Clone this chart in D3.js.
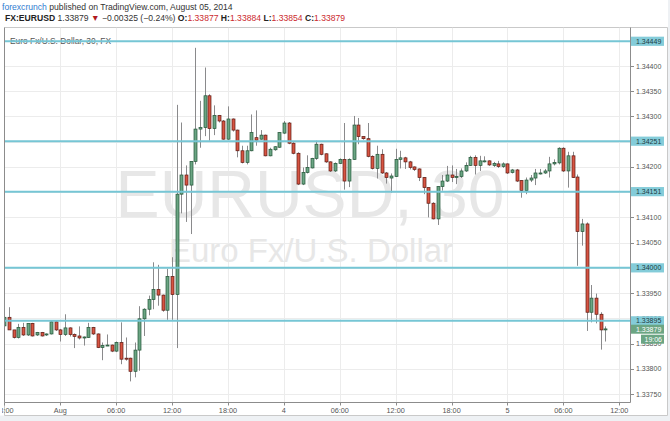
<!DOCTYPE html>
<html><head><meta charset="utf-8">
<script src="https://cdn.jsdelivr.net/npm/d3@7"></script>
<style>
html,body{margin:0;padding:0;background:#fff;}
svg{display:block;}
text{font-family:"Liberation Sans",Arial,sans-serif;}
</style></head><body>
<svg id="chart" width="670" height="421"></svg>
<script>
// ---- data: EURUSD 30-minute candles ----
const openP = [
1.33885,1.33902,1.33877,1.33862,1.33882,1.33867,1.33890,1.33867,1.33872,1.33867,
1.33869,1.33893,1.33877,1.33868,1.33881,1.33868,1.33865,1.33861,1.33862,1.33882,
1.33869,1.33842,1.33846,1.33847,1.33835,1.33852,1.33821,1.33821,1.33795,1.33837,
1.33899,1.33918,1.33937,1.33957,1.33946,1.33916,1.33983,1.33947,1.34146,1.34184,
1.34164,1.34211,1.34275,1.34278,1.34341,1.34276,1.34302,1.34291,1.34255,1.34295,
1.34273,1.34232,1.34209,1.34232,1.34258,1.34255,1.34263,1.34222,1.34234,1.34239,
1.34267,1.34287,1.34247,1.34227,1.34166,1.34189,1.34198,1.34217,1.34245,1.34226,
1.34210,1.34192,1.34207,1.34215,1.34172,1.34215,1.34283,1.34260,1.34256,1.34221,
1.34197,1.34225,1.34188,1.34178,1.34181,1.34215,1.34218,1.34210,1.34200,1.34196,
1.34179,1.34159,1.34128,1.34097,1.34161,1.34172,1.34184,1.34179,1.34181,1.34192,
1.34203,1.34219,1.34203,1.34211,1.34212,1.34203,1.34206,1.34201,1.34206,1.34189,
1.34194,1.34173,1.34153,1.34174,1.34178,1.34186,1.34188,1.34192,1.34206,1.34208,
1.34237,1.34192,1.34222,1.34180,1.34072,1.34087,1.33912,1.33940,1.33908,1.33877];
const highP = [
1.33902,1.33922,1.33877,1.33889,1.33891,1.33890,1.33891,1.33873,1.33873,1.33870,
1.33895,1.33895,1.33879,1.33908,1.33882,1.33870,1.33884,1.33864,1.33891,1.33883,
1.33870,1.33852,1.33868,1.33848,1.33854,1.33892,1.33862,1.33822,1.33852,1.33924,
1.33920,1.33945,1.34011,1.34006,1.33947,1.33998,1.34021,1.34323,1.34288,1.34203,
1.34211,1.34436,1.34331,1.34397,1.34344,1.34322,1.34303,1.34293,1.34320,1.34296,
1.34274,1.34242,1.34242,1.34304,1.34312,1.34273,1.34264,1.34238,1.34241,1.34269,
1.34291,1.34289,1.34249,1.34229,1.34199,1.34223,1.34218,1.34252,1.34246,1.34227,
1.34211,1.34209,1.34217,1.34287,1.34217,1.34301,1.34297,1.34261,1.34287,1.34223,
1.34242,1.34235,1.34190,1.34187,1.34236,1.34232,1.34220,1.34212,1.34201,1.34197,
1.34180,1.34160,1.34130,1.34162,1.34184,1.34202,1.34203,1.34196,1.34197,1.34209,
1.34222,1.34223,1.34222,1.34221,1.34213,1.34210,1.34212,1.34209,1.34207,1.34196,
1.34196,1.34174,1.34179,1.34184,1.34196,1.34196,1.34196,1.34220,1.34215,1.34239,
1.34239,1.34230,1.34230,1.34185,1.34097,1.34090,1.33966,1.33949,1.33912,1.33884];
const lowP = [
1.33885,1.33877,1.33860,1.33860,1.33865,1.33865,1.33864,1.33865,1.33864,1.33865,
1.33868,1.33875,1.33854,1.33865,1.33864,1.33841,1.33858,1.33846,1.33861,1.33867,
1.33841,1.33817,1.33845,1.33833,1.33833,1.33809,1.33816,1.33775,1.33783,1.33796,
1.33865,1.33906,1.33918,1.33925,1.33913,1.33897,1.33897,1.33841,1.34108,1.34091,
1.34067,1.34205,1.34238,1.34261,1.34252,1.34263,1.34288,1.34254,1.34254,1.34270,
1.34219,1.34207,1.34205,1.34231,1.34242,1.34254,1.34221,1.34221,1.34232,1.34238,
1.34265,1.34245,1.34225,1.34164,1.34164,1.34187,1.34197,1.34214,1.34223,1.34208,
1.34190,1.34190,1.34206,1.34155,1.34160,1.34214,1.34245,1.34254,1.34219,1.34195,
1.34177,1.34186,1.34167,1.34149,1.34180,1.34197,1.34196,1.34195,1.34192,1.34172,
1.34146,1.34100,1.34096,1.34085,1.34153,1.34170,1.34170,1.34166,1.34178,1.34190,
1.34202,1.34185,1.34192,1.34209,1.34202,1.34200,1.34198,1.34198,1.34186,1.34187,
1.34170,1.34139,1.34146,1.34170,1.34164,1.34185,1.34186,1.34179,1.34203,1.34205,
1.34190,1.34159,1.34178,1.34004,1.34044,1.33875,1.33892,1.33890,1.33838,1.33854];
const closeP = [
1.33902,1.33877,1.33862,1.33882,1.33867,1.33890,1.33865,1.33872,1.33865,1.33869,
1.33893,1.33877,1.33868,1.33881,1.33868,1.33864,1.33861,1.33863,1.33882,1.33869,
1.33842,1.33846,1.33847,1.33835,1.33852,1.33819,1.33819,1.33795,1.33837,1.33899,
1.33918,1.33937,1.33957,1.33946,1.33916,1.33983,1.33947,1.34146,1.34184,1.34164,
1.34211,1.34275,1.34278,1.34341,1.34276,1.34302,1.34291,1.34255,1.34295,1.34273,
1.34232,1.34209,1.34232,1.34268,1.34253,1.34263,1.34222,1.34235,1.34240,1.34268,
1.34287,1.34247,1.34227,1.34166,1.34189,1.34199,1.34217,1.34245,1.34225,1.34210,
1.34192,1.34207,1.34215,1.34172,1.34215,1.34283,1.34260,1.34256,1.34221,1.34197,
1.34225,1.34188,1.34179,1.34182,1.34215,1.34218,1.34210,1.34199,1.34195,1.34179,
1.34159,1.34128,1.34097,1.34161,1.34172,1.34184,1.34179,1.34181,1.34192,1.34203,
1.34219,1.34203,1.34212,1.34212,1.34204,1.34207,1.34201,1.34206,1.34188,1.34194,
1.34172,1.34153,1.34174,1.34178,1.34188,1.34188,1.34192,1.34206,1.34209,1.34237,
1.34192,1.34222,1.34179,1.34072,1.34087,1.33912,1.33940,1.33908,1.33877,1.33879];

// time axis: bar index of each labelled tick
const timeTickIndex = [0,12,24,36,48,60,72,84,96,108,120,132];
const timeTickLabels = ["18:00","Aug","06:00","12:00","18:00","4","06:00","12:00","18:00","5","06:00","12:00"];
// price axis ticks
const priceTicks = [1.3375,1.3380,1.3385,1.3390,1.3395,1.3400,1.3405,1.3410,1.3415,1.3420,1.3425,1.3430,1.3435,1.3440,1.3445];
// user-drawn horizontal levels
const levelPrices = [1.34449,1.34251,1.34151,1.34000,1.33895];
const countdownText = "19:06";
const changeText = "\u22120.00325 (\u22120.24%)";

// ---- layout ----
const svg = d3.select("#chart");
const L = 4.5, R = 630.5, T = 27.5, B = 402.5;
const x = d3.scaleLinear().domain([0, 129]).range([4.4, 605.3]);
const y = d3.scaleLinear().domain([1.3375, 1.3440]).range([394, 66]);
const fmt = d3.format(".5f");
const last = openP.length - 1;

// backgrounds
svg.append("rect").attr("width",670).attr("height",421).attr("fill","#eef1f4");
svg.append("rect").attr("x",0).attr("y",0).attr("width",668).attr("height",415.5).attr("fill","#fff");
// frame
svg.append("path").attr("d",`M${L},${T}H667.5V415.5H${L}Z`).attr("fill","none").attr("stroke","#c9c9c9").attr("stroke-width",1);

// header
const h1 = svg.append("text").attr("x",2).attr("y",10).attr("font-size",8.6).attr("fill","#333");
h1.append("tspan").attr("fill","#2f7cd0").text("forexcrunch");
h1.append("tspan").text(" published on TradingView.com, August 05, 2014");
const h2 = svg.append("text").attr("x",5).attr("y",21.3).attr("font-size",8.6).attr("fill","#333");
h2.append("tspan").attr("font-weight","bold").attr("fill","#222").text("FX:EURUSD");
h2.append("tspan").text(" " + fmt(closeP[last]) + " ");
h2.append("tspan").attr("fill","#b01a1f").text("\u25BC");
h2.append("tspan").text(" " + changeText + " ");
[["O:",openP[last]],[" H:",highP[last]],[" L:",lowP[last]],[" C:",closeP[last]]].forEach(([k,v])=>{
  h2.append("tspan").attr("font-weight","bold").attr("fill","#222").text(k);
  h2.append("tspan").attr("fill","#cc2a2e").text(fmt(v));
});

// clip for plot
svg.append("defs").append("clipPath").attr("id","plot")
  .append("rect").attr("x",L).attr("y",T).attr("width",R-L).attr("height",B-T);
svg.append("defs").append("clipPath").attr("id","xlab")
  .append("rect").attr("x",2).attr("y",B).attr("width",R-2).attr("height",14);

const plot = svg.append("g").attr("clip-path","url(#plot)");

// grid
plot.selectAll(".hg").data(priceTicks).join("line")
  .attr("x1",L).attr("x2",R)
  .attr("y1",d=>Math.round(y(d))+0.5).attr("y2",d=>Math.round(y(d))+0.5)
  .attr("stroke","#ececec").attr("stroke-width",1);
plot.selectAll(".vg").data(timeTickIndex).join("line")
  .attr("x1",d=>Math.round(x(d))+0.5).attr("x2",d=>Math.round(x(d))+0.5)
  .attr("y1",T).attr("y2",B)
  .attr("stroke","#ececec").attr("stroke-width",1);

// watermark
plot.append("text").attr("x",310).attr("y",217).attr("text-anchor","middle")
  .attr("font-size",66).attr("fill","#e7e7e7").text("EURUSD, 30");
plot.append("text").attr("x",311).attr("y",262).attr("text-anchor","middle")
  .attr("font-size",33).attr("fill","#e7e7e7").text("Euro Fx/U.S. Dollar");

// symbol legend inside pane
plot.append("text").attr("x",10).attr("y",44).attr("font-size",8.4).attr("fill","#555")
  .text("Euro Fx/U.S. Dollar, 30, FX");

// candles
const idx = d3.range(openP.length);
const cx = i => Math.round(x(i));
plot.selectAll(".wick").data(idx).join("line")
  .attr("x1",i=>cx(i)+0.5).attr("x2",i=>cx(i)+0.5)
  .attr("y1",i=>y(highP[i])).attr("y2",i=>y(lowP[i]))
  .attr("stroke","#8a8a8c").attr("stroke-width",1);
plot.selectAll(".body").data(idx).join("rect")
  .attr("x",i=>cx(i)-1)
  .attr("width",3)
  .attr("y",i=>Math.min(y(openP[i]),y(closeP[i])))
  .attr("height",i=>Math.max(1,Math.abs(y(openP[i])-y(closeP[i]))))
  .attr("fill",i=>closeP[i]>=openP[i]?"#6ba583":"#d75442")
  .attr("stroke",i=>closeP[i]>=openP[i]?"#225437":"#5b1a13")
  .attr("stroke-width",0.7);

// level lines (on top of candles)
plot.selectAll(".lvl").data(levelPrices).join("line")
  .attr("x1",L).attr("x2",R)
  .attr("y1",d=>y(d)).attr("y2",d=>y(d))
  .attr("stroke","#76c6d5").attr("stroke-width",2);

// axes lines
svg.append("line").attr("x1",R).attr("x2",R).attr("y1",T).attr("y2",B).attr("stroke","#8c8c8c");
svg.append("line").attr("x1",L).attr("x2",R).attr("y1",B).attr("y2",B).attr("stroke","#8c8c8c");
svg.append("line").attr("x1",L).attr("x2",L).attr("y1",T).attr("y2",B).attr("stroke","#8c8c8c");

// right price axis
const ya = svg.append("g");
ya.selectAll("line").data(priceTicks.filter(d=>y(d)>T)).join("line")
  .attr("x1",R).attr("x2",R+3.5)
  .attr("y1",d=>Math.round(y(d))+0.5).attr("y2",d=>Math.round(y(d))+0.5)
  .attr("stroke","#8c8c8c");
ya.selectAll("text").data(priceTicks.filter(d=>y(d)>T)).join("text")
  .attr("x",R+5.5).attr("y",d=>y(d)+2.5).attr("font-size",7).attr("fill","#555")
  .text(d=>fmt(d));

// bottom time axis
const xa = svg.append("g").attr("clip-path","url(#xlab)");
xa.selectAll("line").data(timeTickIndex).join("line")
  .attr("x1",d=>Math.round(x(d))+0.5).attr("x2",d=>Math.round(x(d))+0.5)
  .attr("y1",B).attr("y2",B+3).attr("stroke","#8c8c8c");
xa.selectAll("text").data(timeTickIndex).join("text")
  .attr("x",d=>x(d)).attr("y",412.5).attr("text-anchor","middle")
  .attr("font-size",7.3).attr("fill","#555")
  .text((d,i)=>timeTickLabels[i]);

// level labels
const lab = svg.append("g");
levelPrices.forEach(v=>{
  const yy = y(v);
  lab.append("rect").attr("x",R+0.5).attr("y",yy-4.6).attr("width",33).attr("height",9.2).attr("fill","#84ccd9");
  lab.append("text").attr("x",R+5.5).attr("y",yy+2.5).attr("font-size",7).attr("fill","#1d3c44").text(fmt(v));
});
// last price + countdown
const yl = y(closeP[last]);
lab.append("rect").attr("x",R+0.5).attr("y",yl-4.2).attr("width",33).attr("height",9).attr("fill","#6ba583");
lab.append("text").attr("x",R+5.5).attr("y",yl+2.6).attr("font-size",7).attr("fill","#fff").text(fmt(closeP[last]));
lab.append("rect").attr("x",R+10.5).attr("y",yl+5.8).attr("width",23).attr("height",9).attr("fill","#6ba583");
lab.append("text").attr("x",R+14).attr("y",yl+12.8).attr("font-size",7).attr("fill","#fff").text(countdownText);
</script>
</body></html>
